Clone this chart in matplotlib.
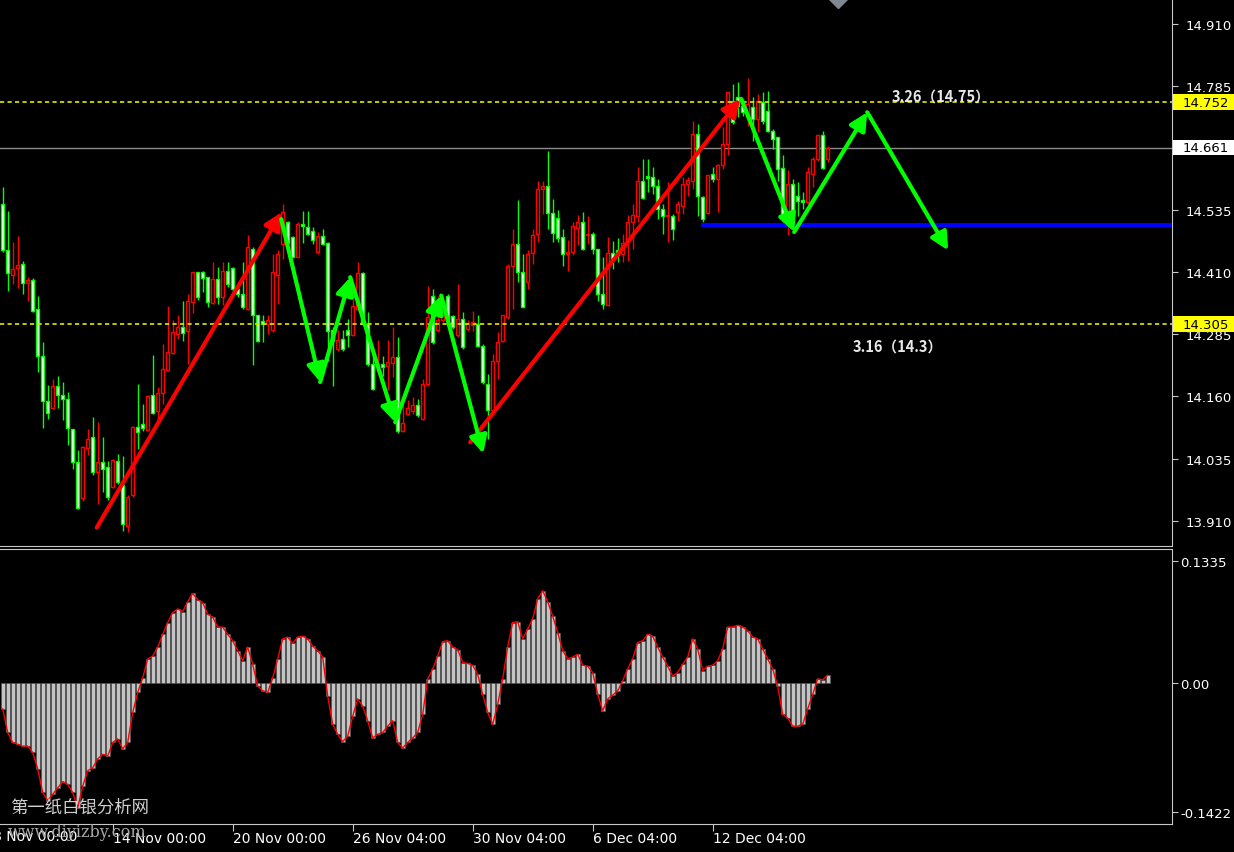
import matplotlib
matplotlib.use("Agg")
import matplotlib.pyplot as plt
import matplotlib.transforms as mtransforms
from matplotlib.patches import Rectangle
import numpy as np

# 4H candles
opens = [14.548, 14.454, 14.405, 14.418, 14.427, 14.388, 14.395, 14.336, 14.242, 14.150,
         14.136, 14.182, 14.162, 14.154, 14.095, 14.029, 13.955, 14.056, 14.078, 14.008,
         14.029, 14.018, 13.978, 14.031, 13.981, 13.900, 13.961, 14.098, 14.105, 14.093,
         14.162, 14.130, 14.167, 14.214, 14.247, 14.286, 14.299, 14.291, 14.351, 14.410,
         14.411, 14.400, 14.348, 14.397, 14.361, 14.413, 14.419, 14.377, 14.366, 14.336,
         14.457, 14.323, 14.312, 14.305, 14.293, 14.405, 14.467, 14.511, 14.481, 14.441,
         14.507, 14.501, 14.493, 14.450, 14.482, 14.468, 14.293, 14.256, 14.276, 14.294,
         14.283, 14.336, 14.408, 14.306, 14.226, 14.220, 14.226, 14.222, 14.227, 14.239,
         14.090, 14.124, 14.130, 14.143, 14.115, 14.185, 14.363, 14.293, 14.313, 14.363,
         14.322, 14.283, 14.316, 14.295, 14.304, 14.306, 14.262, 14.185, 14.132, 14.232,
         14.272, 14.320, 14.423, 14.467, 14.411, 14.391, 14.449, 14.487, 14.578, 14.584,
         14.529, 14.519, 14.481, 14.447, 14.451, 14.499, 14.512, 14.484, 14.487, 14.457,
         14.366, 14.345, 14.449, 14.454, 14.447, 14.470, 14.511, 14.524, 14.594, 14.604,
         14.601, 14.584, 14.537, 14.523, 14.524, 14.532, 14.544, 14.588, 14.594, 14.688,
         14.561, 14.529, 14.608, 14.598, 14.625, 14.668, 14.755, 14.762, 14.745, 14.723,
         14.743, 14.719, 14.752, 14.735, 14.695, 14.682, 14.619, 14.519, 14.588, 14.564,
         14.556, 14.551, 14.608, 14.638, 14.686, 14.638]
highs = [14.581, 14.534, 14.470, 14.482, 14.432, 14.400, 14.398, 14.362, 14.269, 14.183,
         14.195, 14.201, 14.189, 14.169, 14.095, 14.053, 14.061, 14.095, 14.118, 14.108,
         14.078, 14.031, 14.035, 14.045, 14.041, 13.961, 14.101, 14.185, 14.145, 14.162,
         14.244, 14.179, 14.266, 14.343, 14.313, 14.324, 14.353, 14.366, 14.411, 14.411,
         14.413, 14.401, 14.431, 14.421, 14.431, 14.431, 14.421, 14.387, 14.431, 14.484,
         14.460, 14.323, 14.324, 14.323, 14.446, 14.454, 14.548, 14.514, 14.482, 14.511,
         14.534, 14.534, 14.501, 14.491, 14.497, 14.470, 14.299, 14.293, 14.293, 14.316,
         14.356, 14.430, 14.410, 14.330, 14.246, 14.274, 14.242, 14.274, 14.299, 14.279,
         14.155, 14.152, 14.159, 14.155, 14.195, 14.383, 14.377, 14.363, 14.360, 14.366,
         14.323, 14.387, 14.330, 14.313, 14.333, 14.323, 14.266, 14.205, 14.246, 14.290,
         14.323, 14.427, 14.497, 14.556, 14.447, 14.454, 14.497, 14.594, 14.594, 14.655,
         14.558, 14.535, 14.497, 14.474, 14.511, 14.525, 14.531, 14.524, 14.491, 14.457,
         14.440, 14.481, 14.472, 14.479, 14.487, 14.525, 14.548, 14.621, 14.638, 14.638,
         14.621, 14.598, 14.548, 14.591, 14.527, 14.554, 14.601, 14.601, 14.715, 14.709,
         14.564, 14.606, 14.621, 14.628, 14.702, 14.772, 14.789, 14.792, 14.759, 14.800,
         14.762, 14.769, 14.772, 14.775, 14.698, 14.682, 14.645, 14.615, 14.598, 14.591,
         14.571, 14.621, 14.642, 14.686, 14.695, 14.665]
lows = [14.450, 14.373, 14.387, 14.378, 14.366, 14.353, 14.330, 14.209, 14.096, 14.115,
        14.135, 14.136, 14.112, 14.063, 14.014, 13.934, 13.950, 14.043, 14.001, 13.944,
        13.967, 13.951, 13.976, 13.984, 13.890, 13.887, 13.957, 14.055, 14.091, 14.091,
        14.125, 14.108, 14.145, 14.212, 14.246, 14.276, 14.272, 14.226, 14.328, 14.355,
        14.370, 14.340, 14.346, 14.346, 14.344, 14.381, 14.366, 14.360, 14.336, 14.334,
        14.224, 14.269, 14.269, 14.286, 14.289, 14.346, 14.437, 14.467, 14.440, 14.440,
        14.468, 14.484, 14.467, 14.447, 14.464, 14.232, 14.182, 14.252, 14.252, 14.259,
        14.281, 14.333, 14.303, 14.222, 14.172, 14.205, 14.202, 14.172, 14.199, 14.086,
        14.088, 14.122, 14.125, 14.119, 14.112, 14.182, 14.266, 14.290, 14.310, 14.312,
        14.296, 14.280, 14.256, 14.292, 14.292, 14.259, 14.185, 14.075, 14.125, 14.195,
        14.270, 14.316, 14.336, 14.391, 14.340, 14.377, 14.427, 14.471, 14.527, 14.497,
        14.470, 14.470, 14.423, 14.413, 14.444, 14.464, 14.454, 14.467, 14.447, 14.353,
        14.336, 14.343, 14.417, 14.431, 14.430, 14.433, 14.457, 14.511, 14.558, 14.571,
        14.568, 14.517, 14.487, 14.470, 14.474, 14.514, 14.527, 14.564, 14.578, 14.524,
        14.511, 14.527, 14.591, 14.531, 14.618, 14.645, 14.709, 14.722, 14.725, 14.705,
        14.675, 14.692, 14.709, 14.692, 14.658, 14.594, 14.511, 14.484, 14.524, 14.524,
        14.537, 14.548, 14.581, 14.634, 14.618, 14.631]
closes = [14.454, 14.409, 14.417, 14.425, 14.388, 14.395, 14.333, 14.242, 14.150, 14.127,
          14.182, 14.162, 14.154, 14.096, 14.029, 13.935, 14.058, 14.075, 14.008, 14.028,
          14.014, 13.957, 14.032, 13.988, 13.904, 13.957, 14.098, 14.088, 14.096, 14.160,
          14.126, 14.167, 14.216, 14.249, 14.289, 14.299, 14.287, 14.352, 14.410, 14.360,
          14.398, 14.350, 14.397, 14.361, 14.412, 14.387, 14.377, 14.366, 14.340, 14.460,
          14.323, 14.272, 14.306, 14.314, 14.410, 14.447, 14.532, 14.468, 14.441, 14.507,
          14.504, 14.487, 14.474, 14.482, 14.467, 14.291, 14.272, 14.274, 14.256, 14.283,
          14.343, 14.408, 14.306, 14.226, 14.175, 14.226, 14.220, 14.229, 14.239, 14.091,
          14.106, 14.136, 14.142, 14.123, 14.185, 14.320, 14.269, 14.313, 14.350, 14.316,
          14.299, 14.316, 14.259, 14.308, 14.310, 14.262, 14.189, 14.132, 14.232, 14.269,
          14.323, 14.423, 14.467, 14.411, 14.340, 14.447, 14.484, 14.578, 14.584, 14.529,
          14.489, 14.479, 14.447, 14.449, 14.503, 14.512, 14.456, 14.487, 14.457, 14.366,
          14.346, 14.449, 14.435, 14.444, 14.469, 14.512, 14.525, 14.594, 14.559, 14.599,
          14.584, 14.537, 14.524, 14.525, 14.497, 14.548, 14.588, 14.596, 14.688, 14.564,
          14.517, 14.606, 14.598, 14.625, 14.668, 14.772, 14.712, 14.745, 14.732, 14.749,
          14.719, 14.755, 14.715, 14.695, 14.678, 14.618, 14.517, 14.588, 14.524, 14.554,
          14.551, 14.611, 14.638, 14.686, 14.619, 14.660]

# oscillator histogram (lower window)
osc = [-0.029, -0.055, -0.066, -0.068, -0.070, -0.070, -0.077, -0.095, -0.121, -0.130,
       -0.123, -0.116, -0.109, -0.112, -0.121, -0.138, -0.114, -0.097, -0.094, -0.084,
       -0.079, -0.081, -0.066, -0.062, -0.073, -0.066, -0.033, -0.011, 0.005, 0.026,
       0.029, 0.039, 0.053, 0.066, 0.077, 0.081, 0.078, 0.089, 0.098, 0.091,
       0.088, 0.075, 0.072, 0.061, 0.061, 0.053, 0.046, 0.035, 0.024, 0.039,
       0.020, -0.004, -0.009, -0.011, 0.005, 0.026, 0.048, 0.050, 0.043, 0.050,
       0.051, 0.048, 0.040, 0.035, 0.028, -0.015, -0.046, -0.057, -0.065, -0.059,
       -0.037, -0.018, -0.026, -0.042, -0.061, -0.057, -0.055, -0.048, -0.042, -0.066,
       -0.072, -0.066, -0.061, -0.055, -0.035, 0.004, 0.015, 0.029, 0.045, 0.046,
       0.039, 0.036, 0.022, 0.021, 0.019, 0.009, -0.013, -0.033, -0.046, -0.024,
       0.004, 0.039, 0.066, 0.067, 0.048, 0.059, 0.070, 0.092, 0.101, 0.089,
       0.073, 0.055, 0.035, 0.026, 0.028, 0.031, 0.019, 0.018, 0.011, -0.013,
       -0.031, -0.018, -0.014, -0.009, 0.002, 0.015, 0.026, 0.044, 0.046, 0.053,
       0.051, 0.039, 0.028, 0.018, 0.007, 0.011, 0.020, 0.028, 0.048, 0.037,
       0.013, 0.018, 0.019, 0.024, 0.037, 0.061, 0.061, 0.063, 0.061, 0.057,
       0.050, 0.048, 0.037, 0.026, 0.015, -0.004, -0.035, -0.039, -0.048, -0.048,
       -0.046, -0.029, -0.013, 0.004, 0.003, 0.008]

# hand-drawn arrows (bar index, price)
red_arrows = [((18.8, 13.896), (55.8, 14.531)), ((93.5, 14.068), (147.5, 14.759))]
green_path1 = [(55.7, 14.517), (63.5, 14.189), (69.5, 14.400), (78.5, 14.108), (87.7, 14.363), (96.1, 14.045)]
green_path2 = [(147.7, 14.759), (158.3, 14.491), (172.9, 14.732), (189.1, 14.454)]

level_hi = 14.752
level_lo = 14.305
last_price = 14.661
support = 14.505
support_start = 140.1

price_ticks = [13.910, 14.035, 14.160, 14.285, 14.410, 14.535, 14.660, 14.785, 14.910]
time_pos = [22, 46, 70, 94, 118, 142]
time_labels = ["14 Nov 00:00", "20 Nov 00:00", "26 Nov 04:00", "30 Nov 04:00", "6 Dec 04:00", "12 Dec 04:00"]

W, H = 1234, 853
fig = plt.figure(figsize=(W / 100, H / 100), dpi=100, facecolor="black")
ax = fig.add_axes([0, 1 - 547 / H, 1172 / W, 547 / H], facecolor="black")
ax2 = fig.add_axes([0, 1 - 825 / H, 1172 / W, 275 / H], facecolor="black")

o = np.array(opens); h = np.array(highs); l = np.array(lows); c = np.array(closes)
idx = np.arange(len(c))
up = c >= o
edge = np.where(up, "#ff0000", "#00ff00")
ax.vlines(idx, l, h, colors=edge, lw=1, zorder=2)
ax.bar(idx, np.maximum(np.abs(c - o), 0.003), bottom=np.minimum(o, c), width=0.7,
       color=np.where(up, "black", "white"), edgecolor=edge, lw=1, zorder=3)

xmin = -0.54
xmax = xmin + 1172 / 5
ax.set_xlim(xmin, xmax)
ax.set_ylim(13.859, 14.960)
ax2.set_xlim(xmin, xmax)
ax2.set_ylim(-0.1557, 0.1469)

# horizontal levels
ax.axhline(level_hi, color="#e8e800", lw=1.2, ls=(0, (2.5, 2)), zorder=4)
ax.axhline(level_lo, color="#e8e800", lw=1.2, ls=(0, (2.5, 2)), zorder=4)
ax.axhline(last_price, color="#8c8c8c", lw=1, zorder=1)
ax.plot([support_start, xmax], [support, support], color="#0000ff", lw=3, zorder=4)

# arrows
def arrow(p0, p1, col):
    ax.annotate("", xy=p1, xytext=p0,
                arrowprops=dict(arrowstyle="-|>,head_length=0.7,head_width=0.35", color=col,
                                lw=3, shrinkA=0, shrinkB=0, mutation_scale=15), zorder=6)

for p0, p1 in red_arrows:
    arrow(p0, p1, "#ff0000")
for path in (green_path1, green_path2):
    for p0, p1 in zip(path[:-1], path[1:]):
        arrow(p0, p1, "#00ff00")

cjk = ["Noto Sans CJK SC", "DejaVu Sans"]
ax.text(177.8, 14.750, "3.26（14.75）", color="#e8e8e8", fontsize=10.5, fontweight="bold",
        family=cjk, ha="left", va="bottom", zorder=7)
ax.text(169.9, 14.262, "3.16（14.3）", color="#e8e8e8", fontsize=10.5, fontweight="bold",
        family=cjk, ha="left", va="center", zorder=7)

# shift marker at the top
ax.plot([167.1], [14.960], marker="D", ms=9, color="#7f8791", clip_on=True, zorder=8)

# axes styling
for a in (ax, ax2):
    for s in ("left", "top"):
        a.spines[s].set_visible(False)
    for s in ("right", "bottom"):
        a.spines[s].set_color("#c8c8c8")
    a.yaxis.tick_right()
    a.tick_params(axis="y", colors="#c8c8c8", labelcolor="white", length=4, labelsize=9.5, pad=6)
ax2.spines["top"].set_visible(True)
ax2.spines["top"].set_color("#c8c8c8")
ax.set_xticks([])
ax.set_yticks(price_ticks)
# 14.660 sits under the last-price box
ax.set_yticklabels(["" if abs(t - last_price) < 0.01 else f"{t:.3f}" for t in price_ticks])

# price boxes on the scale
tr = mtransforms.blended_transform_factory(ax.transAxes, ax.transData)
for val, fc in ((level_hi, "#ffff00"), (level_lo, "#ffff00"), (last_price, "white")):
    ax.add_patch(Rectangle((1.0 + 1 / 1172, val - 0.016), 62 / 1172, 0.032, transform=tr,
                           facecolor=fc, edgecolor="none", clip_on=False, zorder=9))
    ax.text(1.0 + 11 / 1172, val, f"{val:.3f}", transform=tr, color="black", fontsize=9.5,
            va="center", ha="left", clip_on=False, zorder=10)

# oscillator
ax2.bar(idx, osc, width=0.8, color="#c4c4c4", edgecolor="#505050", lw=0.4, zorder=2)
ax2.plot(idx, osc, color="#ff0000", lw=1, zorder=3)
ax2.set_yticks([-0.1422, 0.0, 0.1335])
ax2.set_yticklabels(["-0.1422", "0.00", "0.1335"])
ax2.tick_params(axis="y", pad=2)
ax2.set_xticks(time_pos)
ax2.set_xticklabels(time_labels)
ax2.tick_params(axis="x", colors="#c8c8c8", labelcolor="white", length=5, labelsize=10, pad=0)
for lab in ax2.get_xticklabels():
    lab.set_ha("left")
trx = mtransforms.blended_transform_factory(ax2.transData, ax2.transAxes)
ax2.text(-2.0, -0.018, "8 Nov 00:00", transform=trx, color="white", fontsize=10,
         ha="left", va="top", clip_on=False)

# watermark
fig.text(10 / W, 1 - 808 / H, "第一纸白银分析网", color="#d0d0d0", fontsize=12.5,
         family=cjk, va="center", ha="left")
fig.text(8 / W, 1 - 833 / H, "www.diyizby.com", color="#a8a8a8", fontsize=11.5,
         family=["DejaVu Serif"], va="center", ha="left")

fig.savefig("out.png", dpi=100, facecolor="black")
